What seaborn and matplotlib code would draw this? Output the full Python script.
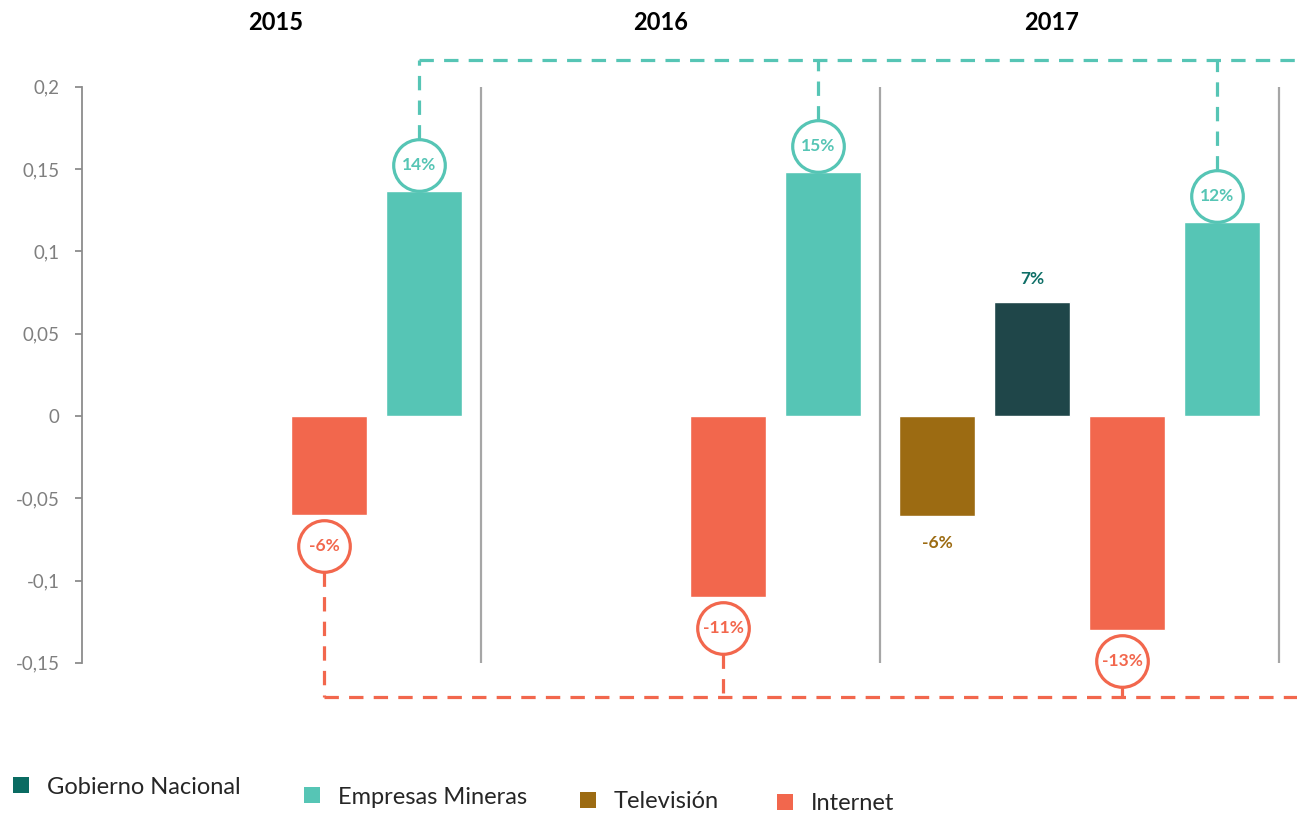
import matplotlib
matplotlib.use('Agg')
import matplotlib.pyplot as plt
import seaborn as sns
import pandas as pd
from matplotlib.patches import Patch
from matplotlib.transforms import blended_transform_factory

# ---- data ----
years = ['2015', '2016', '2017']
series_order = ['Televisión', 'Gobierno Nacional', 'Internet', 'Empresas Mineras']
legend_order = ['Gobierno Nacional', 'Empresas Mineras', 'Televisión', 'Internet']
internet = [-0.060, -0.110, -0.130]
empresas = [0.137, 0.148, 0.118]
television = [None, None, -0.061]
gobierno = [None, None, 0.069]
yticks = [-0.15, -0.1, -0.05, 0, 0.05, 0.1, 0.15, 0.2]
ytick_labels = ['-0,15', '-0,1', '-0,05', '0', '0,05', '0,1', '0,15', '0,2']

bar_colors = {'Televisión': '#9C6B12', 'Gobierno Nacional': '#1F4649',
              'Internet': '#F2674D', 'Empresas Mineras': '#56C5B5'}
legend_colors = {'Televisión': '#9C6B12', 'Gobierno Nacional': '#0A6B62',
                 'Internet': '#F2674D', 'Empresas Mineras': '#56C5B5'}
label_colors = {'Televisión': '#9C6B12', 'Gobierno Nacional': '#0D6E66',
                'Internet': '#F2674D', 'Empresas Mineras': '#56C5B5'}

rows = []
for name, vals in [('Televisión', television), ('Gobierno Nacional', gobierno),
                   ('Internet', internet), ('Empresas Mineras', empresas)]:
    for y, v in zip(years, vals):
        if v is not None:
            rows.append({'year': y, 'serie': name, 'value': v})
df = pd.DataFrame(rows)

sns.set_theme(style='white')
plt.rcParams['font.family'] = ['Lato', 'DejaVu Sans']

W, H = 1297, 815
fig = plt.figure(figsize=(W / 100, H / 100), dpi=100)
ylo, yhi = -0.19, 0.23
px_per_unit = (663 - 87) / 0.35
top_px = 416 - yhi * px_per_unit
bot_px = 416 - ylo * px_per_unit
ax = fig.add_axes([82 / W, 1 - bot_px / H, 1 - 82 / W, (bot_px - top_px) / H])

sns.barplot(data=df, x='year', y='value', hue='serie', order=years,
            hue_order=series_order, palette=bar_colors, saturation=1,
            width=0.95, gap=0.2, errorbar=None, legend=False, ax=ax)

xr = -0.5 + (1297 - 82) / 399.0
ax.set_xlim(-0.5, xr)
ax.set_ylim(ylo, yhi)

# axes styling
for s in ['top', 'right', 'bottom']:
    ax.spines[s].set_visible(False)
ax.spines['left'].set_color('#8c8c8c')
ax.spines['left'].set_linewidth(1.3)
ax.spines['left'].set_bounds(-0.15, 0.2)
ax.set_yticks(yticks)
ax.set_yticklabels(ytick_labels)
ax.tick_params(axis='y', length=5, width=1.3, color='#8c8c8c', pad=11,
               labelsize=13.5, labelcolor='#7f7f7f', left=True)
ax.set_xticks([])
ax.set_xlabel('')
ax.set_ylabel('')

# group separators
ax.vlines([0.5, 1.5, 2.5], -0.15, 0.2, color='#a6a6a6', lw=1.6, zorder=1)

# year titles
trans = blended_transform_factory(ax.transData, fig.transFigure)
year_dx = [-0.015, -0.05, -0.07]
for i, (y, dx) in enumerate(zip(years, year_dx)):
    ax.text(i + dx, 1 - 22 / H, y, transform=trans, ha='center', va='center',
            fontsize=17, fontweight='bold', color='black')

# annotations
r_unit = 26 / px_per_unit
up_off = 26 / px_per_unit
down_off = 31 / px_per_unit
teal_level = 0.2 + 27 / px_per_unit
red_level = -0.15 - 34 / px_per_unit
teal_x, red_x = [], []
for p in ax.patches:
    h = p.get_height()
    if abs(h) < 1e-12:
        continue
    match = df[(df['value'] - h).abs() < 1e-9]
    if match.empty:
        continue
    serie = match.iloc[0]['serie']
    xc = p.get_x() + p.get_width() / 2
    lab = f"{round(h * 100):d}%"
    col = label_colors[serie]
    if serie in ('Empresas Mineras', 'Internet'):
        xc2 = xc - 0.011
        cy = h + up_off if h > 0 else h - down_off
        ax.scatter([xc2], [cy], s=1380, facecolor='white', edgecolor=col,
                   linewidth=2.3, zorder=5)
        ax.text(xc2, cy, lab, ha='center', va='center', fontsize=12.5,
                fontweight='bold', color=col, zorder=6)
        if h > 0:
            ax.plot([xc2, xc2], [cy + r_unit, teal_level], color=col, lw=2.3,
                    ls=(0, (4.5, 3.2)), zorder=4, solid_capstyle='butt')
            teal_x.append(xc2)
        else:
            ax.plot([xc2, xc2], [cy - r_unit, red_level], color=col, lw=2.3,
                    ls=(0, (4.5, 3.2)), zorder=4)
            red_x.append(xc2)
    else:
        ty = h + 23 / px_per_unit if h > 0 else h - 27 / px_per_unit
        ax.text(xc, ty, lab, ha='center', va='center', fontsize=12.5,
                fontweight='bold', color=col, zorder=6)

if teal_x:
    ax.plot([min(teal_x), xr], [teal_level, teal_level], color=bar_colors['Empresas Mineras'],
            lw=2.3, ls=(0, (4.5, 3.2)), zorder=4, clip_on=False)
if red_x:
    ax.plot([min(red_x), xr], [red_level, red_level], color=bar_colors['Internet'],
            lw=2.3, ls=(0, (4.5, 3.2)), zorder=4, clip_on=False)

# staggered legend entries
leg_pos = {'Gobierno Nacional': (13, 787), 'Empresas Mineras': (304, 797),
           'Televisión': (580, 802), 'Internet': (777, 804)}
for name in legend_order:
    x0, y0 = leg_pos[name]
    fig.legend(handles=[Patch(facecolor=legend_colors[name], edgecolor='none', label=name)],
               loc='center left', bbox_to_anchor=(x0 / W, 1 - y0 / H),
               frameon=False, fontsize=17, handlelength=0.68, handleheight=0.68,
               handletextpad=0.75, borderpad=0, borderaxespad=0)

fig.savefig('out.png', dpi=100)
